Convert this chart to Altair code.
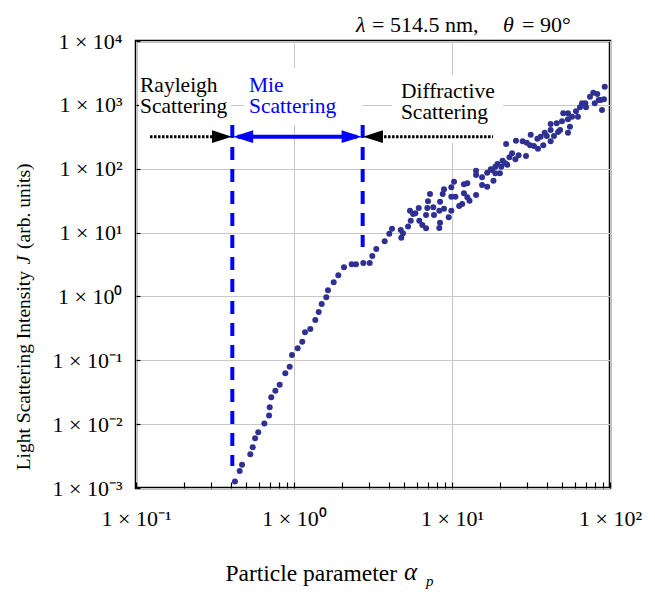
import altair as alt
import pandas as pd

SERIF = "Liberation Serif"
DOT = "#2e3192"
BLUE = "#0000ff"

# ---- measured data: particle parameter alpha_p vs. scattering intensity J ----
alpha_p = [
    0.423, 0.453, 0.469, 0.529, 0.548, 0.567, 0.594, 0.649, 0.695, 0.702,
    0.718, 0.762, 0.812, 0.881, 0.939, 0.971, 1.055, 1.128, 1.174, 1.268,
    1.364, 1.433, 1.497, 1.601, 1.641, 1.783, 1.907, 2.073, 2.318, 2.469,
    2.746, 3.014, 3.13, 3.318, 3.75, 4.01, 4.776, 4.896,
    4.17, 4.74, 5.27, 5.48, 5.42, 5.67, 5.86, 6.16, 6.21, 6.49,
    6.85, 6.85, 6.98, 7.05, 7.26, 7.61, 7.69, 8.31, 8.40, 8.31,
    8.40, 8.73, 8.90, 8.90, 9.53, 9.90, 9.90, 9.90, 10.3, 10.5,
    11.1, 11.6, 11.9, 11.9, 12.5, 12.5, 12.9, 14.2, 14.2, 14.2,
    15.5, 15.5, 16.7, 16.7, 17.6, 18.3, 18.8, 19.4,
    17.9, 18.8, 20.1, 20.5, 20.9, 22.0, 21.7, 22.4, 23.1, 24.0,
    25.2, 25.4, 26.4, 28.0, 29.4, 29.7, 31.5, 31.2, 33.0, 35.0,
    34.7, 36.4, 37.8, 38.6, 39.8, 42.1, 42.1, 42.1, 44.2, 46.0,
    46.9, 48.3, 49.7, 50.6, 54.2, 54.2, 54.2, 55.8, 57.5, 60.9,
    62.7, 64.6, 66.5, 69.8, 70.5, 74.7, 78.4, 80.0, 83.1, 84.8,
    89.0, 87.3, 91.6, 92.6,
]
J = [
    0.00126, 0.00185, 0.00232, 0.00337, 0.00434, 0.0060, 0.00745, 0.0102, 0.0136, 0.0184,
    0.0263, 0.0334, 0.0415, 0.0625, 0.0794, 0.121, 0.154, 0.195, 0.274, 0.309,
    0.427, 0.570, 0.761, 0.969, 1.247, 1.664, 2.142, 2.858, 3.184, 3.184,
    3.337, 3.337, 4.295, 5.53, 7.30, 9.60, 8.31, 9.74,
    11.5, 11.0, 12.5, 15.3, 22.0, 19.5, 20.0, 24.2, 15.3, 13.1,
    11.7, 18.8, 24.2, 30.9, 40.2, 24.9, 18.8, 11.8, 14.3, 22.0,
    30.4, 40.2, 47.6, 23.6, 17.3, 22.0, 36.4, 51.1, 62.6, 36.4,
    26.1, 28.0, 41.2, 57.0, 59.1, 35.7, 31.5, 38.7, 93.0, 79.7,
    73.3, 55.6, 52.2, 86.6, 97.9, 64.9, 84.7, 118.5,
    95.4, 107.5, 84.7, 107.5, 133.5, 243.6, 121.5, 115.5, 150.8, 174.2,
    140.4, 274.5, 162.1, 268.6, 158.1, 255.4, 340.8, 232.5, 226.8, 205.7,
    295, 317, 232.5, 366, 325, 501, 404, 268.6, 325, 514,
    375, 404, 552, 737, 594, 737, 366, 455, 652, 792,
    652, 915, 1057, 1057, 915, 1341, 1549, 1057, 1478, 1191,
    830, 1191, 1221, 1924,
]

# axis tick values
x_major = [0.1, 1, 10, 100]
y_major = [0.001, 0.01, 0.1, 1, 10, 100, 1000, 10000]
x_minor = [m * d for d in [0.1, 1, 10] for m in range(1, 11)]

# regime boundaries and annotation geometry (data units)
boundary_alpha = [0.407, 2.72]
boundary_top = [483, 483]
boundary_bottom = [0.00221, 5.94]
arrow_J = 317

region_names = ["Rayleigh", "Mie", "Diffractive"]
line1 = ["Rayleigh", "Mie", "Diffractive"]
line2 = ["Scattering", "Scattering", "Scattering"]
text_alpha = [0.106, 0.519, 4.75]
text_J1 = [1972, 1972, 1589]
text_J2 = [925, 925, 745]
text_color = ["black", BLUE, "black"]
box_x1 = [0.1045, 0.4826, 4.17]
box_x2 = [0.398, 2.694, 21.0]
box_y1 = [483, 483, 252.7]
box_y2 = [3776, 3776, 2931]

xs = alt.Scale(type="log", domain=[0.1, 100], nice=False)
ys = alt.Scale(type="log", domain=[0.001, 10000], nice=False)

pts = pd.DataFrame({"alpha": alpha_p, "J": J})

main_x_axis = alt.Axis(
    orient="bottom",
    values=x_major, grid=True, gridColor="#c8c8c8", gridWidth=1, ticks=False,
    domain=False, labels=True, title=None, labelFont=SERIF, labelFontSize=22,
    labelColor="black", labelPadding=20, labelFlush=False, labelOverlap=False,
    labelExpr="'1 × 10' + ['⁻¹','⁰','¹','²'][round(log(datum.value)/LN10)+1]",
)
main_y_axis = alt.Axis(
    orient="left",
    values=y_major, grid=True, gridColor="#c8c8c8", gridWidth=1, ticks=False,
    domain=False, labels=True, title=None, labelFont=SERIF, labelFontSize=22,
    labelColor="black", labelPadding=14, labelFlush=False, labelOverlap=False,
    labelExpr="'1 × 10' + ['⁻³','⁻²','⁻¹','⁰','¹','²','³','⁴'][round(log(datum.value)/LN10)+3]",
)
tick_x_axis = alt.Axis(
    orient="bottom",
    values=x_minor, grid=False, ticks=True, tickSize=6, tickWidth=1.2,
    tickColor="black", domain=False, labels=False, title=None, offset=-6,
)
tick_y_axis = alt.Axis(
    orient="left",
    values=y_major, grid=False, ticks=True, tickSize=4, tickWidth=1.2,
    tickColor="black", domain=False, labels=False, title=None, offset=-4,
)

# white boxes behind the regime labels
boxes = pd.DataFrame({"x1": box_x1, "x2": box_x2, "y1": box_y1, "y2": box_y2})
box_layer = alt.Chart(boxes).mark_rect(color="white").encode(
    x=alt.X("x1:Q", scale=xs, axis=tick_x_axis),
    x2="x2:Q",
    y=alt.Y("y1:Q", scale=ys, axis=tick_y_axis),
    y2="y2:Q",
)

# blue dashed boundaries
bnd = pd.DataFrame({"a": boundary_alpha, "top": boundary_top, "bot": boundary_bottom})
bnd_layer = alt.Chart(bnd).mark_rule(color=BLUE, strokeWidth=4, strokeDash=[13, 9]).encode(
    x=alt.X("a:Q", scale=xs, axis=None),
    y=alt.Y("top:Q", scale=ys, axis=None),
    y2="bot:Q",
)

# arrows
dotted = pd.DataFrame({"a1": [0.1227, 3.12], "a2": [0.37, 18.2], "j": [arrow_J, arrow_J]})
dotted_layer = alt.Chart(dotted).mark_rule(color="black", strokeWidth=3, strokeDash=[2.5, 1.5]).encode(
    x=alt.X("a1:Q", scale=xs, axis=None), x2="a2:Q",
    y=alt.Y("j:Q", scale=ys, axis=None),
)
blue_line = pd.DataFrame({"a1": [0.44], "a2": [2.5], "j": [arrow_J]})
blue_layer = alt.Chart(blue_line).mark_rule(color=BLUE, strokeWidth=4).encode(
    x=alt.X("a1:Q", scale=xs, axis=None), x2="a2:Q",
    y=alt.Y("j:Q", scale=ys, axis=None),
)
RIGHT_HEAD = "M0,0L-1,-0.32L-1,0.32Z"
LEFT_HEAD = "M0,0L1,-0.32L1,0.32Z"


def head(a, color, shape):
    return alt.Chart(pd.DataFrame({"a": [a], "j": [arrow_J]})).mark_point(
        shape=shape, filled=True, size=1600, color=color, opacity=1, strokeWidth=0
    ).encode(x=alt.X("a:Q", scale=xs, axis=None), y=alt.Y("j:Q", scale=ys, axis=None))


heads = [
    head(0.405, "black", RIGHT_HEAD),
    head(2.73, "black", LEFT_HEAD),
    head(0.412, BLUE, LEFT_HEAD),
    head(2.68, BLUE, RIGHT_HEAD),
]

# regime labels
lab = pd.DataFrame({
    "a": text_alpha, "j1": text_J1, "j2": text_J2, "l1": line1, "l2": line2,
    "c": text_color, "r": region_names,
})
txt1 = alt.Chart(lab).mark_text(font=SERIF, fontSize=21.5, align="left", baseline="middle").encode(
    x=alt.X("a:Q", scale=xs, axis=None), y=alt.Y("j1:Q", scale=ys, axis=None),
    text="l1:N", color=alt.Color("c:N", scale=None),
)
txt2 = alt.Chart(lab).mark_text(font=SERIF, fontSize=21.5, align="left", baseline="middle").encode(
    x=alt.X("a:Q", scale=xs, axis=None), y=alt.Y("j2:Q", scale=ys, axis=None),
    text="l2:N", color=alt.Color("c:N", scale=None),
)

# data points
pts_layer = alt.Chart(pts).mark_circle(size=36, color=DOT, opacity=1).encode(
    x=alt.X("alpha:Q", scale=xs, axis=main_x_axis),
    y=alt.Y("J:Q", scale=ys, axis=main_y_axis),
)


def label(text, x, y, size=21, style="normal", align="left", angle=0):
    return alt.Chart(pd.DataFrame({"t": [text]})).mark_text(
        font=SERIF, fontSize=size, fontStyle=style, color="black",
        align=align, baseline="middle", angle=angle,
    ).encode(x=alt.value(x), y=alt.value(y), text="t:N")


outer = [
    # condition title
    label("λ", 220, -16, size=22, style="italic"),
    label("= 514.5 nm,", 236, -16, size=22),
    label("θ", 367, -16, size=22, style="italic"),
    label("= 90°", 386, -16, size=22),
    # x title
    label("Particle parameter", 261, 533, size=23.5, align="right"),
    label("α", 268, 531, size=25, style="italic"),
    label("p", 290, 540, size=15, style="italic"),
    # y title
    label("Light Scattering Intensity", -112, 230, size=19.5, align="right", angle=270),
    label("J", -112, 219, size=19.5, style="italic", align="center", angle=270),
    label("(arb. units)", -112, 208, size=19.5, align="left", angle=270),
]

chart = alt.layer(
    box_layer, bnd_layer, dotted_layer, blue_layer, *heads, txt1, txt2, pts_layer, *outer
).resolve_axis(x="independent", y="independent").properties(
    width=474, height=447,
    autosize=alt.AutoSizeParams(type="none"),
    padding={"left": 136, "top": 41, "right": 45, "bottom": 107},
    background="white",
).configure_view(stroke="black", strokeWidth=2.5)

chart.save("out.html", embed_options={"renderer": "svg", "actions": False})
